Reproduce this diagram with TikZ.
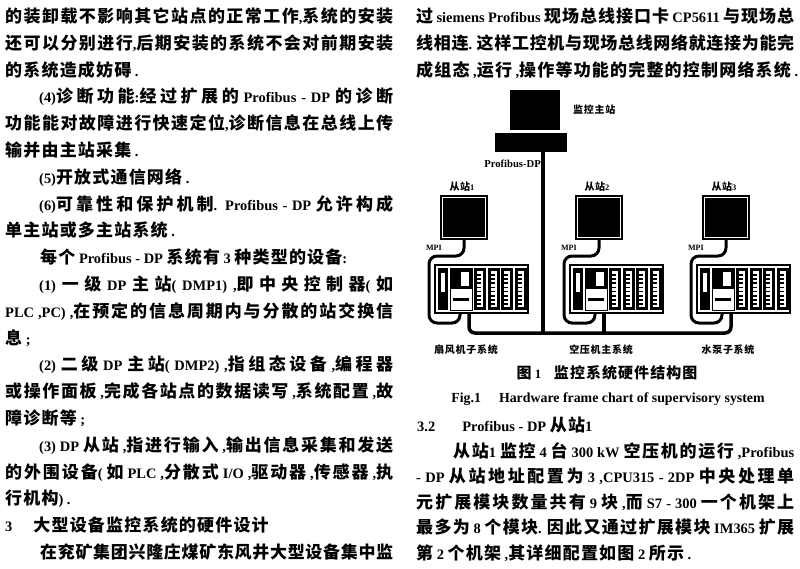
\documentclass[tikz,border=0pt]{standalone}
\usepackage{fontspec}
\setmainfont{Liberation Serif}[Scale=0.85]
\newfontfamily\latinfont{Liberation Serif}[Scale=0.85]
\newfontfamily\cjkfont{Noto Sans CJK SC}
% Chinese characters are set in the CJK font, the rest in the serif
\XeTeXinterchartokenstate=1
\chardef\cjkclass=7
\newcount\cjkcode
\cjkcode="4E00
\loop
  \XeTeXcharclass\cjkcode=\cjkclass
  \ifnum\cjkcode<"9FFF \advance\cjkcode by 1
\repeat
\XeTeXinterchartoks 0 \cjkclass = {\cjkfont}
\XeTeXinterchartoks 4095 \cjkclass = {\cjkfont}
\XeTeXinterchartoks \cjkclass 0 = {\latinfont}
\XeTeXinterchartoks \cjkclass 4095 = {\latinfont}
\XeTeXinterchartoks \cjkclass \cjkclass = {\hskip 0.07em plus 0.2em minus 0.05em\relax}
\newcommand\jl[2]{\makebox[#1][s]{#2}}
\tikzset{
  body/.style={anchor=base west, inner sep=0pt, font=\fontsize{17}{20}\selectfont\bfseries},
  lab/.style={inner sep=0pt, font=\fontsize{10}{12}\selectfont\bfseries},
  screen/.style={fill=black, minimum width=48pt, minimum height=45pt, inner sep=0pt},
  rack/.style={draw, line width=1.5pt, minimum width=93pt, minimum height=48pt, inner sep=0pt},
  bus/.style={line width=3.5pt, rounded corners=6pt},
  cable/.style={line width=3pt, rounded corners=8pt},
}
\begin{document}
\begin{tikzpicture}[x=1pt, y=-1pt]
   \useasboundingbox (0,0) rectangle (800,568);
   \fill[white] (0,0) rectangle (800,568);
   % left column
   \node[body] (l1) at (5,22.5) {\jl{388pt}{的装卸载不影响其它站点的正常工作,系统的安装}};
   \node[body] (l2) at (5,49.3) {\jl{388pt}{还可以分别进行,后期安装的系统不会对前期安装}};
   \node[body] (l3) at (5,76.1) {的系统造成妨碍 .};
   \node[body] (l4) at (39,102.9) {\jl{354pt}{(4)诊断功能:经过扩展的 Profibus - DP 的诊断}};
   \node[body] (l5) at (5,129.7) {\jl{388pt}{功能能对故障进行快速定位,诊断信息在总线上传}};
   \node[body] (l6) at (5,156.5) {输并由主站采集 .};
   \node[body] (l7) at (39,183.3) {(5)开放式通信网络 .};
   \node[body] (l8) at (39,210.1) {\jl{354pt}{(6)可靠性和保护机制. Profibus - DP 允许构成}};
   \node[body] (l9) at (5,236.9) {单主站或多主站系统 .};
   \node[body] (l10) at (40,263.7) {每个 Profibus - DP 系统有 3 种类型的设备:};
   \node[body] (l11) at (39,290.5) {\jl{354pt}{(1) 一级 DP 主站( DMP1) ,即中央控制器( 如}};
   \node[body] (l12) at (5,317.3) {\jl{388pt}{PLC ,PC) ,在预定的信息周期内与分散的站交换信}};
   \node[body] (l13) at (5,344.1) {息 ;};
   \node[body] (l14) at (39,370.9) {\jl{354pt}{(2) 二级 DP 主站( DMP2) ,指组态设备 ,编程器}};
   \node[body] (l15) at (5,397.7) {\jl{388pt}{或操作面板 ,完成各站点的数据读写 ,系统配置 ,故}};
   \node[body] (l16) at (5,424.5) {障诊断等 ;};
   \node[body] (l17) at (39,451.3) {\jl{354pt}{(3) DP 从站 ,指进行输入 ,输出信息采集和发送}};
   \node[body] (l18) at (5,478.1) {\jl{388pt}{的外围设备( 如 PLC ,分散式 I/O ,驱动器 ,传感器 ,执}};
   \node[body] (l19) at (5,504.9) {行机构) .};
   \node[body] (l20) at (5,531.7) {3\hspace{21pt}大型设备监控系统的硬件设计};
   \node[body] (l21) at (40,558.5) {\jl{353pt}{在兖矿集团兴隆庄煤矿东风井大型设备集中监}};
   % right column
   \node[body] (r1) at (416,22.5) {\jl{378pt}{过 siemens Profibus 现场总线接口卡 CP5611 与现场总}};
   \node[body] (r2) at (416,49.3) {\jl{378pt}{线相连. 这样工控机与现场总线网络就连接为能完}};
   \node[body] (r3) at (416,76.1) {成组态 ,运行 ,操作等功能的完整的控制网络系统 .};
   % master station and bus
   \node[fill, minimum width=50pt, minimum height=40pt, inner sep=0pt] (host) at (535,110) {};
   \node[fill, minimum width=72pt, minimum height=19pt, inner sep=0pt] (hostbase) at (531,142.5) {};
   \node[lab, anchor=west] (hostlab) at (573,110) {监控主站};
   \coordinate (tap) at (543,333);
   \draw[bus] (hostbase.south -| tap) -- (tap);
   \node[lab, anchor=east, font=\fontsize{12.5}{14}\selectfont\bfseries] (buslab) at (541,164) {Profibus-DP};
   % slave stations
   \foreach \ox/\k/\sysname in {440/1/扇风机子系统, 575/2/空压机主系统, 702/3/水泵子系统} {
      \node[lab] (name\k) at (\ox+22,187) {从站\k};
      \node[screen] (mon\k) at (\ox+24,217.5) {};
      \draw[white, line width=0.6pt] ([shift={(2.5pt,2.5pt)}]mon\k.south west) rectangle ([shift={(-2.5pt,-2.5pt)}]mon\k.north east);
      \node[rack] (rack\k) at (\ox+41.5,289) {};
      \fill (\ox-2,268) rectangle (\ox+8,310);
      \fill[white] (\ox+1,273) rectangle (\ox+5,292);
      \draw[line width=0.8pt] (\ox+10,268) rectangle (\ox+32,310);
      \fill (\ox+10,268) rectangle (\ox+32,289);
      \fill[white] (\ox+21,272) rectangle (\ox+29,286);
      \fill (\ox+13,298) rectangle (\ox+29,301);
      \foreach \i in {0,...,3} {
         \fill (\ox+34+\i*13.5,268) rectangle (\ox+46+\i*13.5,310);
         \fill[white] (\ox+37+\i*13.5,271) rectangle (\ox+43+\i*13.5,307);
         \foreach \t in {0,...,7}
            \fill (\ox+37+\i*13.5,274+\t*4.2) rectangle (\ox+41+\i*13.5,275.6+\t*4.2);
      }
      \node[lab, anchor=east, font=\fontsize{9.5}{11}\selectfont\bfseries] (mpi\k) at (\ox+2,248) {MPI};
      \draw[cable] (mon\k.south) |- (\ox-11,256) |- (\ox+20,323) -- ([xshift=-21.5pt]rack\k.south);
      \node[lab] (sys\k) at (\ox+26,350) {\sysname};
   }
   \draw[bus] ([xshift=-12.5pt]rack1.south) |- (tap) -| ([xshift=-12.5pt]rack3.south);
   \draw[bus] (rack2.south) ++(-12.5,0) -- ++(0,20);
   % captions
   \node[anchor=base, inner sep=0pt, font=\fontsize{15}{17}\selectfont\bfseries] (cap) at (607,378) {图 1\hspace{1em}监控系统硬件结构图};
   \node[anchor=base, inner sep=0pt, font=\fontsize{16.3}{18}\selectfont\bfseries] (capen) at (608,402.5) {Fig.1\hspace{1.3em}Hardware frame chart of supervisory system};
   % section 3.2
   \node[body] (r4) at (417,431.5) {3.2\hspace{27pt}Profibus - DP 从站1};
   \node[body] (r5) at (453,457) {\jl{341pt}{从站1 监控 4 台 300 kW 空压机的运行 ,Profibus}};
   \node[body] (r6) at (416,482.5) {\jl{378pt}{- DP 从站地址配置为 3 ,CPU315 - 2DP 中央处理单}};
   \node[body] (r7) at (416,508) {\jl{378pt}{元扩展模块数量共有 9 块 ,而 S7 - 300 一个机架上}};
   \node[body] (r8) at (416,533.5) {\jl{378pt}{最多为 8 个模块. 因此又通过扩展模块 IM365 扩展}};
   \node[body] (r9) at (416,559) {第 2 个机架 ,其详细配置如图 2 所示 .};
\end{tikzpicture}
\end{document}
